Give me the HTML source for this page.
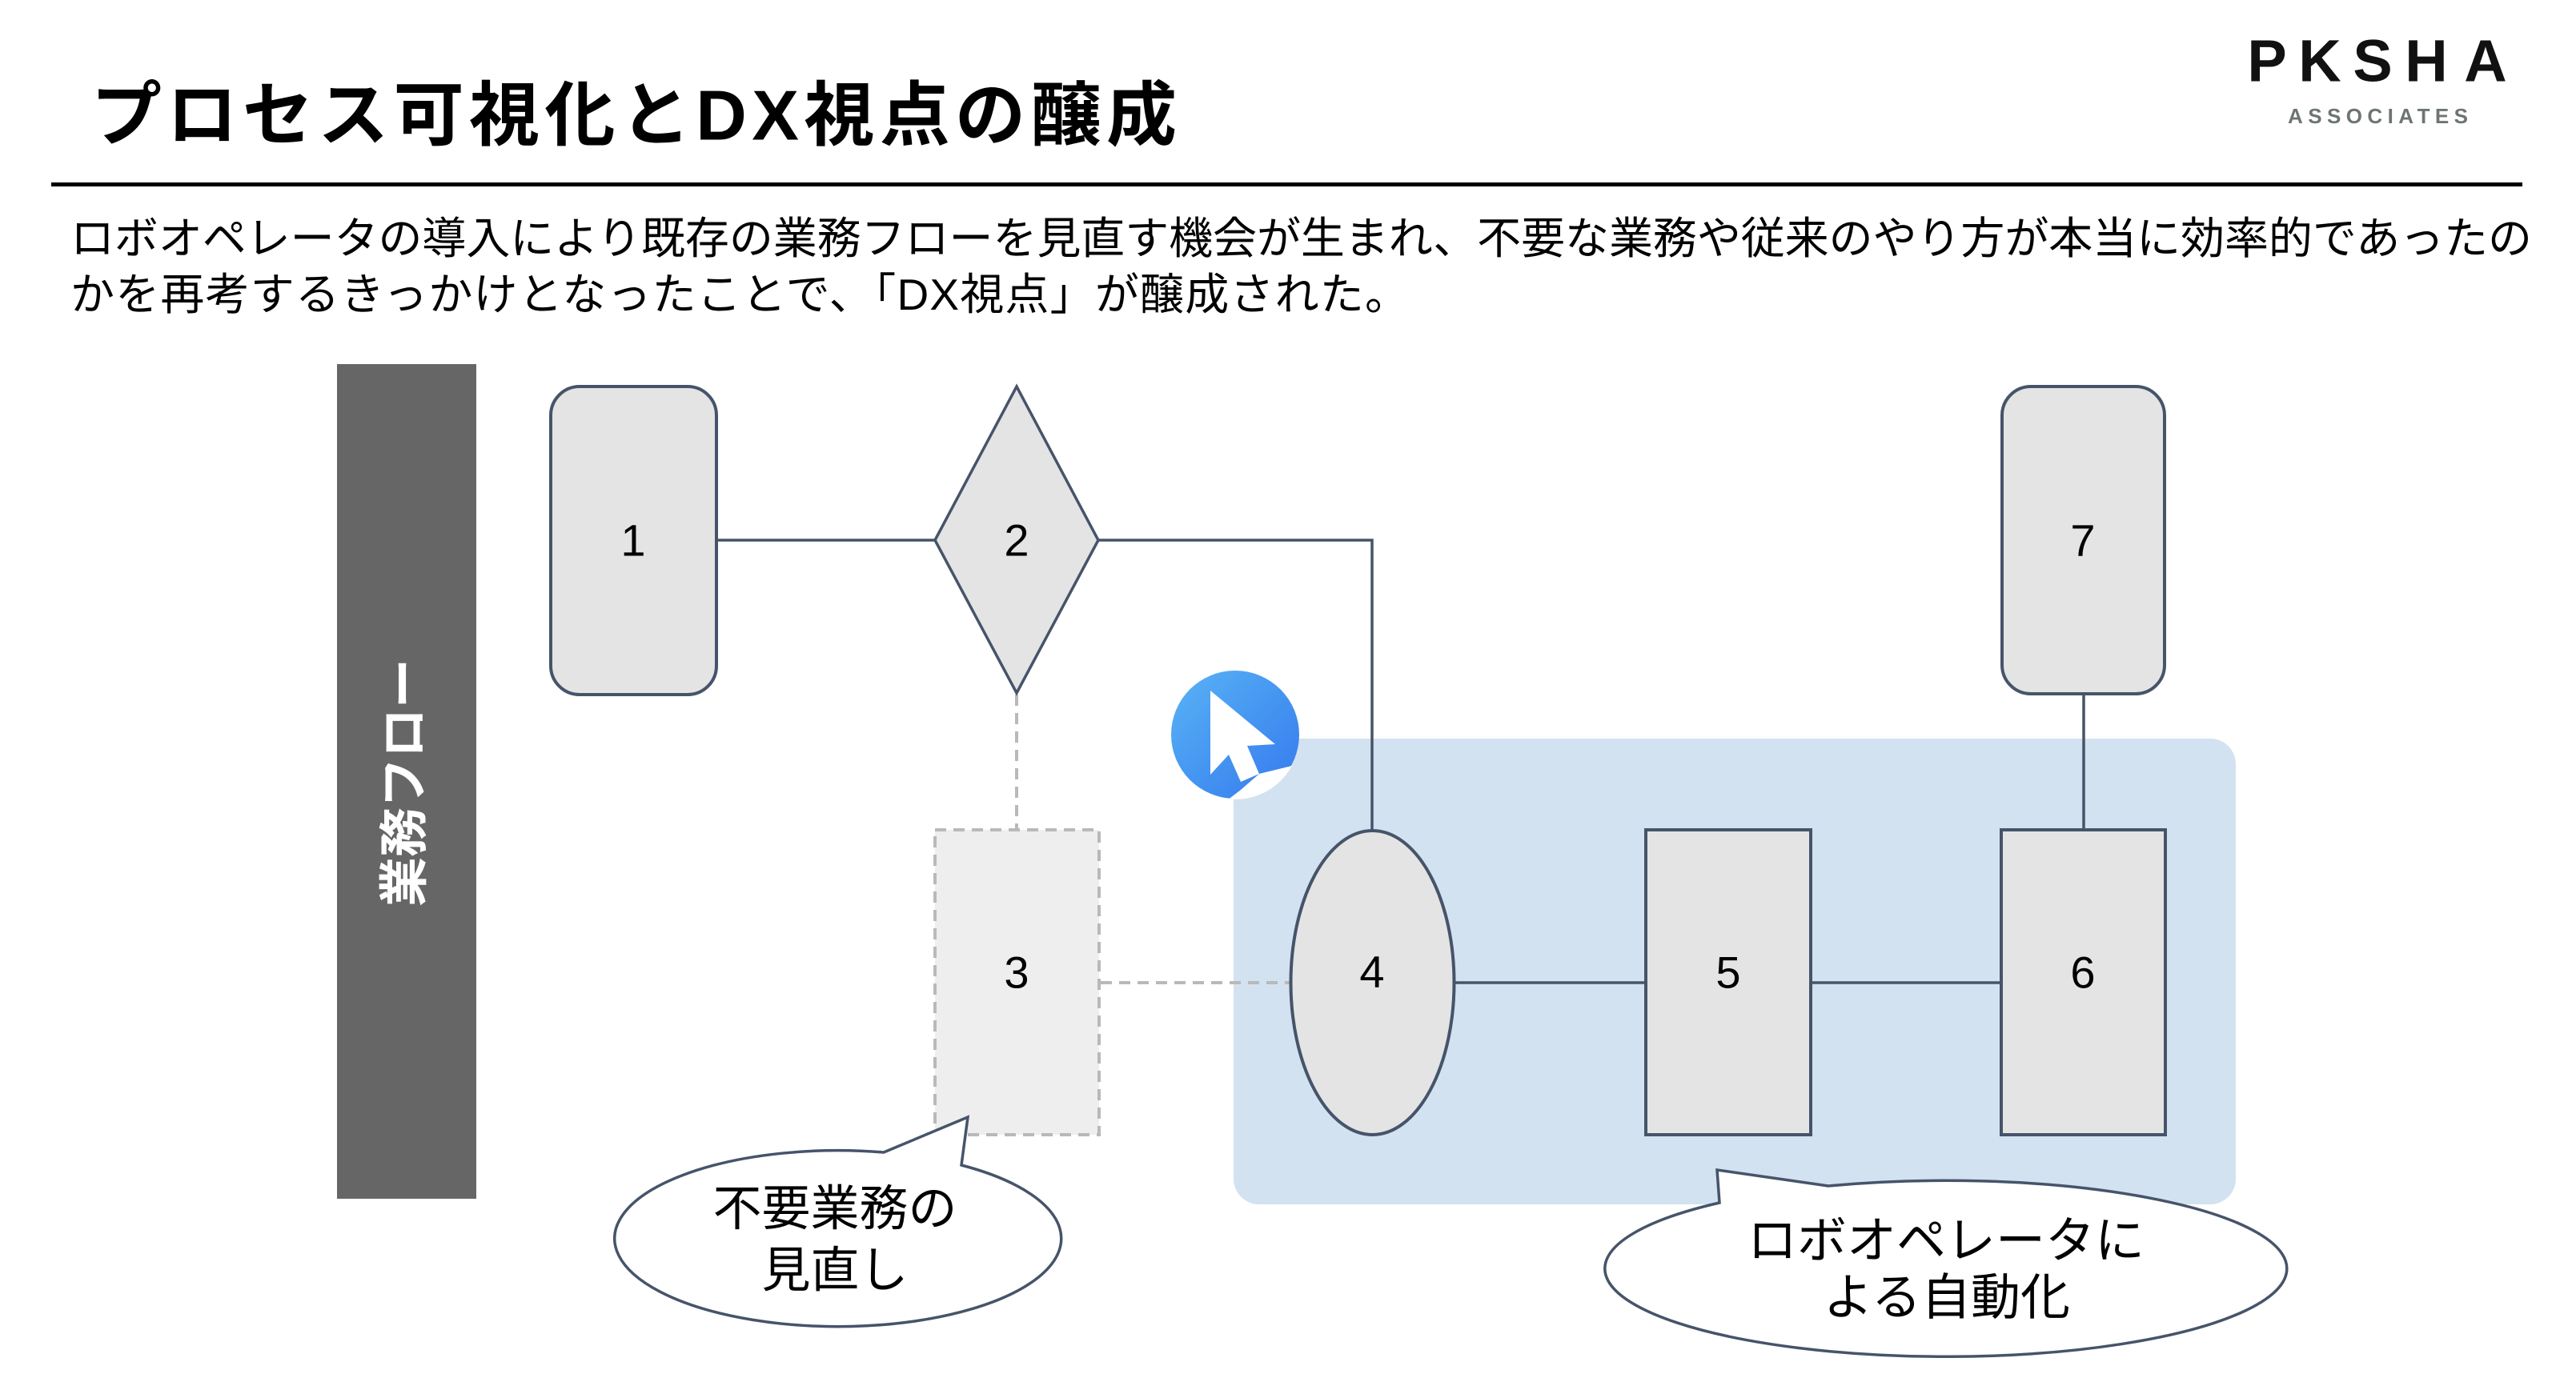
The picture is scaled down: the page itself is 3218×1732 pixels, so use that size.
<!DOCTYPE html>
<html>
<head>
<meta charset="utf-8">
<style>
html,body{margin:0;padding:0;background:#ffffff;}
svg{display:block;}
.jp{font-family:"Liberation Sans","Noto Sans CJK JP",sans-serif;}
.num{font-family:"Liberation Sans",sans-serif;}
</style>
</head>
<body>
<svg width="3218" height="1732" viewBox="0 0 3218 1732" xmlns="http://www.w3.org/2000/svg">
  <defs>
    <linearGradient id="cg" x1="0" y1="0" x2="1" y2="1">
      <stop offset="0" stop-color="#5bb4f6"/>
      <stop offset="0.5" stop-color="#4596f1"/>
      <stop offset="1" stop-color="#3679ee"/>
    </linearGradient>
    <clipPath id="cc">
      <circle cx="1543" cy="918" r="81"/>
    </clipPath>
  </defs>

  <rect x="0" y="0" width="3218" height="1732" fill="#ffffff"/>

  <!-- Title -->
  <text class="jp" x="114" y="144" font-size="88" font-weight="bold" fill="#000" dominant-baseline="central" textLength="1356" lengthAdjust="spacing">プロセス可視化とDX視点の醸成</text>

  <!-- Logo -->
  <g class="num" font-size="74" font-weight="bold" fill="#111" text-anchor="middle" dominant-baseline="central">
    <text x="2832" y="76">P</text>
    <text x="2898" y="76">K</text>
    <text x="2964" y="76">S</text>
    <text x="3031" y="76">H</text>
    <text x="3105" y="76">A</text>
  </g>
  <text class="num" x="2858" y="145" font-size="26" font-weight="bold" fill="#6d7573" dominant-baseline="central" textLength="225" lengthAdjust="spacing">ASSOCIATES</text>

  <!-- Rule -->
  <rect x="64" y="228" width="3087" height="5" fill="#000"/>

  <!-- Body text -->
  <text class="jp" x="88" y="298" font-size="55" fill="#000" dominant-baseline="central" textLength="3075" lengthAdjust="spacing">ロボオペレータの導入により既存の業務フローを見直す機会が生まれ、不要な業務や従来のやり方が本当に効率的であったの</text>
  <text class="jp" x="88" y="368" font-size="55" fill="#000" dominant-baseline="central" textLength="1672" lengthAdjust="spacing">かを再考するきっかけとなったことで、「DX視点」が醸成された。</text>

  <!-- Left bar -->
  <rect x="421" y="455" width="174" height="1043" fill="#666666"/>
  <text class="jp" x="0" y="0" font-size="62" font-weight="bold" fill="#ffffff" text-anchor="middle" dominant-baseline="central" transform="translate(506,978) rotate(-90)">業務フロー</text>

  <!-- Blue region -->
  <rect x="1541" y="923" width="1252" height="582" rx="32" ry="32" fill="#d3e2f0"/>

  <!-- Connectors -->
  <g stroke="#46546a" stroke-width="3.5" fill="none">
    <line x1="895" y1="675" x2="1168" y2="675"/>
    <polyline points="1372,675 1714,675 1714,1037"/>
    <line x1="1817" y1="1228" x2="2056" y2="1228"/>
    <line x1="2262" y1="1228" x2="2500" y2="1228"/>
    <line x1="2603" y1="867" x2="2603" y2="1037"/>
  </g>
  <g stroke="#b9b9b9" stroke-width="4" fill="none" stroke-dasharray="14 9">
    <line x1="1270" y1="868" x2="1270" y2="1037"/>
    <line x1="1375" y1="1228" x2="1612" y2="1228"/>
  </g>

  <!-- Shapes -->
  <g stroke="#46546a" stroke-width="4" fill="#e4e4e4">
    <rect x="688" y="483" width="207" height="385" rx="36" ry="36"/>
    <polygon points="1270,483 1372,675 1270,866 1168,675" stroke-width="3.5"/>
    <rect x="2501" y="483" width="203" height="384" rx="36" ry="36"/>
    <ellipse cx="1714.5" cy="1228" rx="102" ry="190"/>
    <rect x="2056" y="1037" width="206" height="381"/>
    <rect x="2500" y="1037" width="205" height="381"/>
  </g>
  <rect x="1168" y="1037" width="205" height="381" fill="#eeeeee" stroke="#b9b9b9" stroke-width="4" stroke-dasharray="14 9"/>

  <!-- Numbers -->
  <g class="num" font-size="56" fill="#000" text-anchor="middle" dominant-baseline="central">
    <text x="791" y="675">1</text>
    <text x="1270" y="675">2</text>
    <text x="2602" y="675">7</text>
    <text x="1270" y="1215">3</text>
    <text x="1714" y="1214">4</text>
    <text x="2159" y="1215">5</text>
    <text x="2602" y="1215">6</text>
  </g>

  <!-- Cursor icon -->
  <circle cx="1543" cy="918" r="80" fill="url(#cg)"/>
  <polygon clip-path="url(#cc)" points="1520,1010 1550,987 1573,967 1626,954 1640,1010" fill="#ffffff"/>
  <polygon points="1512,863 1512,968 1535,943 1550,977 1573,967 1558,932 1593,930" fill="#ffffff"/>

  <!-- Callout 1 -->
  <path d="M1104,1440 L1209,1396 L1201,1456 A279,110 0 1 1 1104,1440 Z" fill="#ffffff" stroke="#46546a" stroke-width="3.5" stroke-linejoin="miter"/>
  <text class="jp" x="1043" y="1510" font-size="61" fill="#000" text-anchor="middle" dominant-baseline="central">不要業務の</text>
  <text class="jp" x="1043" y="1587" font-size="61" fill="#000" text-anchor="middle" dominant-baseline="central">見直し</text>

  <!-- Callout 2 -->
  <path d="M2284,1482 L2145,1462 L2148,1503 A426,110 0 1 0 2284,1482 Z" fill="#ffffff" stroke="#46546a" stroke-width="3.5" stroke-linejoin="miter"/>
  <text class="jp" x="2431" y="1551" font-size="62" fill="#000" text-anchor="middle" dominant-baseline="central">ロボオペレータに</text>
  <text class="jp" x="2432" y="1622" font-size="62" fill="#000" text-anchor="middle" dominant-baseline="central">よる自動化</text>
</svg>
</body>
</html>
